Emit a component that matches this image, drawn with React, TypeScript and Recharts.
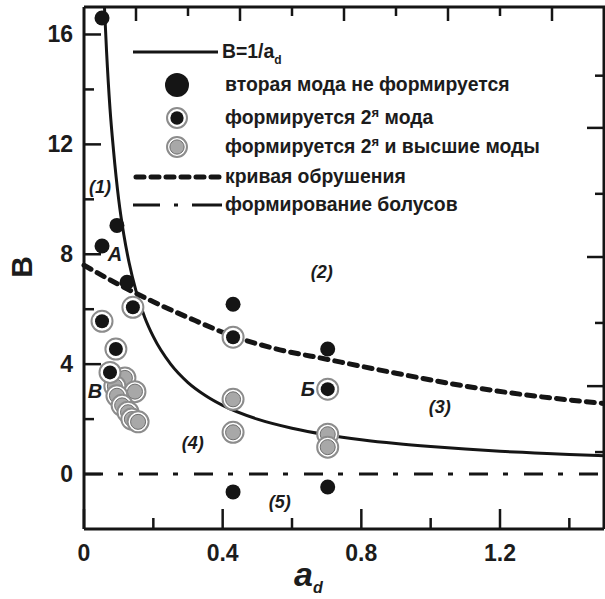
import React from "react";
import {
  ComposedChart,
  Line,
  Scatter,
  XAxis,
  YAxis,
  Legend,
  ReferenceDot,
  Label,
} from "recharts";

const FONT = '"Liberation Sans", Arial, sans-serif';
const INK = "#151515";

// layout
const CHART_W = 605;
const CHART_H = 599;
const MARGIN = { top: 7, right: 1, bottom: 0, left: 0 };
const Y_AXIS_W = 84;
const X_AXIS_H = 70;
const PLOT_W = CHART_W - MARGIN.left - MARGIN.right - Y_AXIS_W;
const PLOT_H = CHART_H - MARGIN.top - MARGIN.bottom - X_AXIS_H;

// axes
const X_MAX = 1.5;
const Y_MIN = -2;
const Y_MAX = 17;
const X_TICKS = [0, 0.2, 0.4, 0.6, 0.8, 1.0, 1.2, 1.4];
const X_LABELS = [0, 0.4, 0.8, 1.2];
const Y_TICKS = [0, 2, 4, 6, 8, 10, 12, 14, 16];
const Y_LABELS = [0, 4, 8, 12, 16];
const TOP_TICKS = [0.15, 0.3, 0.45, 0.6, 0.75, 0.9, 1.05, 1.2, 1.35];
const RIGHT_TICKS = [0.8, 3.2, 5.5, 7.9, 10.2, 12.6, 14.5];

// B = 1/a_d curve
const CURVE_X = [0.059, 0.065, 0.075, 0.085, 0.1, 0.115, 0.13, 0.15, 0.175, 0.2, 0.25, 0.3, 0.35, 0.4, 0.5, 0.6, 0.7, 0.8, 0.9, 1.0, 1.1, 1.2, 1.3, 1.4, 1.5];
const CURVE_B = [17, 15.4, 13.3, 11.8, 10, 8.7, 7.7, 6.67, 5.71, 5, 4, 3.33, 2.86, 2.5, 2, 1.67, 1.43, 1.25, 1.11, 1, 0.91, 0.83, 0.77, 0.71, 0.67];

// кривая обрушения
const CRASH_X = [0, 0.1, 0.2, 0.3, 0.43, 0.55, 0.7, 0.9, 1.1, 1.3, 1.5];
const CRASH_B = [7.6, 6.9, 6.27, 5.7, 5.02, 4.57, 4.18, 3.67, 3.2, 2.84, 2.57];

// формирование болусов
const BOLUS_X = [0, 1.5];
const BOLUS_B = [0, 0];

// вторая мода не формируется
const BLACK_X = [0.052, 0.095, 0.052, 0.124, 0.43, 0.703, 0.43, 0.703];
const BLACK_B = [16.6, 9.05, 8.3, 6.98, 6.18, 4.55, -0.65, -0.47];

// формируется 2я мода
const RING_X = [0.052, 0.141, 0.092, 0.075, 0.43, 0.703];
const RING_B = [5.56, 6.07, 4.55, 3.7, 4.98, 3.09];

// формируется 2я и высшие моды
const GRAY_X = [0.118, 0.089, 0.147, 0.095, 0.11, 0.127, 0.138, 0.156, 0.43, 0.43, 0.703, 0.703];
const GRAY_B = [3.5, 3.2, 3.0, 2.85, 2.5, 2.25, 2.0, 1.9, 2.72, 1.52, 1.45, 0.98];

// region labels
const NOTE_TEXT = ["(1)", "А", "(2)", "(3)", "(4)", "(5)", "В", "Б"];
const NOTE_X = [0.046, 0.089, 0.686, 1.026, 0.314, 0.565, 0.032, 0.646];
const NOTE_B = [10.47, 8.0, 7.38, 2.47, 1.16, -1.02, 3.02, 3.09];

const zip = (xs: number[], ys: number[]) => xs.map((x, i) => ({ x, y: ys[i] }));

const curveData = zip(CURVE_X, CURVE_B);
const crashData = zip(CRASH_X, CRASH_B);
const bolusData = zip(BOLUS_X, BOLUS_B);
const blackData = zip(BLACK_X, BLACK_B);
const ringData = zip(RING_X, RING_B);
const grayData = zip(GRAY_X, GRAY_B);

const BlackDot = ({ cx, cy, r = 7.5 }: any) => <circle cx={cx} cy={cy} r={r} fill={INK} />;

const RingDot = ({ cx, cy, s = 1 }: any) => (
  <g>
    <circle cx={cx} cy={cy} r={10.5 * s} fill="#fff" stroke="#8c8c8c" strokeWidth={2} />
    <circle cx={cx} cy={cy} r={7 * s} fill={INK} />
  </g>
);

const GrayDot = ({ cx, cy, s = 1 }: any) => (
  <g>
    <circle cx={cx} cy={cy} r={10.5 * s} fill="#fff" stroke="#8c8c8c" strokeWidth={2} />
    <circle cx={cx} cy={cy} r={7.5 * s} fill="#a8a8a8" stroke="#6e6e6e" strokeWidth={1} />
  </g>
);

// top-right corner of the box: draws the top and right frame lines
const FrameCorner = ({ cx, cy }: any) => (
  <polyline
    points={`${cx - PLOT_W},${cy} ${cx},${cy} ${cx},${cy + PLOT_H}`}
    fill="none"
    stroke={INK}
    strokeWidth={3}
  />
);

const downTick = (len: number) => ({ cx, cy }: any) => (
  <line x1={cx} y1={cy} x2={cx} y2={cy + len} stroke={INK} strokeWidth={2.5} />
);
const leftTick = (len: number) => ({ cx, cy }: any) => (
  <line x1={cx} y1={cy} x2={cx - len} y2={cy} stroke={INK} strokeWidth={2.5} />
);

const tickText = {
  fontFamily: FONT,
  fontWeight: "bold" as const,
  fontSize: 23,
  fill: "#1c1c1c",
};

const BottomTick = ({ x, y, payload }: any) => {
  const major = X_LABELS.includes(payload.value);
  return (
    <g>
      <line x1={x} y1={y} x2={x} y2={y - (major ? 20 : 11)} stroke={INK} strokeWidth={2.5} />
      {major && (
        <text x={x} y={y + 32} textAnchor="middle" {...tickText}>
          {String(payload.value)}
        </text>
      )}
    </g>
  );
};

const LeftTick = ({ x, y, payload }: any) => {
  const major = Y_LABELS.includes(payload.value);
  return (
    <g>
      <line x1={x} y1={y} x2={x + (major ? 17 : 10)} y2={y} stroke={INK} strokeWidth={2.5} />
      {major && (
        <text x={x - 11} y={y + 8} textAnchor="end" {...tickText}>
          {String(payload.value)}
        </text>
      )}
    </g>
  );
};

const legendText = {
  fontFamily: FONT,
  fontWeight: "bold" as const,
  fontSize: 19.4,
  fill: "#1c1c1c",
};

const LegendContent = () => (
  <svg width={480} height={190}>
    <g transform="translate(-125,-28)">
      <line x1={133} y1={52} x2={218} y2={52} stroke={INK} strokeWidth={3} />
      <text x={222} y={58} {...legendText}>
        B=1/a<tspan fontSize={12} dy={6}>d</tspan>
      </text>

      <BlackDot cx={177} cy={85} r={12} />
      <text x={225} y={91} {...legendText}>вторая мода не формируется</text>

      <RingDot cx={177} cy={118} s={0.95} />
      <text x={225} y={124} {...legendText}>
        формируется 2<tspan fontSize={13} dy={-7}>я</tspan>
        <tspan dy={7}> мода</tspan>
      </text>

      <GrayDot cx={177} cy={147} s={0.95} />
      <text x={225} y={153} {...legendText}>
        формируется 2<tspan fontSize={13} dy={-7}>я</tspan>
        <tspan dy={7}> и высшие моды</tspan>
      </text>

      <line x1={136} y1={177} x2={219} y2={177} stroke={INK} strokeWidth={5} strokeDasharray="8 7" strokeLinecap="round" />
      <text x={225} y={183} {...legendText}>кривая обрушения</text>

      <line x1={133} y1={205} x2={222} y2={205} stroke={INK} strokeWidth={3} strokeDasharray="27 14 4 14 30" />
      <text x={225} y={211} {...legendText}>формирование болусов</text>
    </g>
  </svg>
);

const XTitle = ({ viewBox }: any) => (
  <text x={viewBox.x + 210} y={viewBox.y + 57} fontFamily={FONT} fontWeight="bold" fontStyle="italic" fontSize={34} fill="#1c1c1c">
    a<tspan fontSize={16} dy={7}>d</tspan>
  </text>
);

const YTitle = ({ viewBox }: any) => (
  <text
    x={21}
    y={viewBox.y + 260}
    transform={`rotate(-90 21 ${viewBox.y + 260})`}
    textAnchor="middle"
    dominantBaseline="central"
    fontFamily={FONT}
    fontWeight="bold"
    fontSize={30}
    fill="#1c1c1c"
  >
    B
  </text>
);

const axisLine = { stroke: INK, strokeWidth: 3 };

export default function App() {
  return (
    <div style={{ position: "absolute", left: 0, top: 0, background: "#fff" }}>
      <ComposedChart width={CHART_W} height={CHART_H} margin={MARGIN}>
        <XAxis
          dataKey="x"
          type="number"
          domain={[0, X_MAX]}
          ticks={X_TICKS}
          interval={0}
          height={X_AXIS_H}
          tickSize={0}
          tickMargin={0}
          tickLine={false}
          axisLine={axisLine}
          tick={<BottomTick />}
        >
          <Label content={<XTitle />} />
        </XAxis>
        <YAxis
          dataKey="y"
          type="number"
          domain={[Y_MIN, Y_MAX]}
          ticks={Y_TICKS}
          interval={0}
          width={Y_AXIS_W}
          tickSize={0}
          tickMargin={0}
          tickLine={false}
          axisLine={axisLine}
          tick={<LeftTick />}
        >
          <Label content={<YTitle />} />
        </YAxis>

        <Line data={bolusData} dataKey="y" type="linear" stroke={INK} strokeWidth={3} strokeDasharray="19 15 5 16" dot={false} isAnimationActive={false} />
        <Line data={crashData} dataKey="y" type="monotone" stroke={INK} strokeWidth={5} strokeDasharray="8 7" strokeLinecap="round" dot={false} isAnimationActive={false} />
        <Line data={curveData} dataKey="y" type="monotone" stroke={INK} strokeWidth={3} dot={false} isAnimationActive={false} />

        <Scatter data={grayData} dataKey="y" shape={(p: any) => <GrayDot cx={p.cx} cy={p.cy} />} isAnimationActive={false} />
        <Scatter data={ringData} dataKey="y" shape={(p: any) => <RingDot cx={p.cx} cy={p.cy} />} isAnimationActive={false} />
        <Scatter data={blackData} dataKey="y" shape={(p: any) => <BlackDot cx={p.cx} cy={p.cy} />} isAnimationActive={false} />

        {/* top and right frame with their own ticks */}
        <ReferenceDot x={X_MAX} y={Y_MAX} r={1} ifOverflow="visible" shape={<FrameCorner />} />
        {TOP_TICKS.map((v, i) => (
          <ReferenceDot key={`t${v}`} x={v} y={Y_MAX} r={1} ifOverflow="visible" shape={downTick(i % 2 === 0 ? 14 : 9)} />
        ))}
        {RIGHT_TICKS.map((v, i) => (
          <ReferenceDot key={`r${v}`} x={X_MAX} y={v} r={1} ifOverflow="visible" shape={leftTick(i % 2 === 1 ? 17 : 9)} />
        ))}

        {NOTE_TEXT.map((t, i) => (
          <ReferenceDot
            key={t}
            x={NOTE_X[i]}
            y={NOTE_B[i]}
            r={0}
            stroke="none"
            fill="none"
            ifOverflow="visible"
            label={{
              value: t,
              position: "center",
              fontFamily: FONT,
              fontWeight: "bold",
              fontStyle: "italic",
              fontSize: t.length > 1 ? 18 : 20,
              fill: "#1c1c1c",
            }}
          />
        ))}

        <Legend
          layout="vertical"
          align="center"
          verticalAlign="middle"
          content={<LegendContent />}
          wrapperStyle={{ left: 125, top: 28, width: 480, height: 190 }}
        />
      </ComposedChart>
    </div>
  );
}
